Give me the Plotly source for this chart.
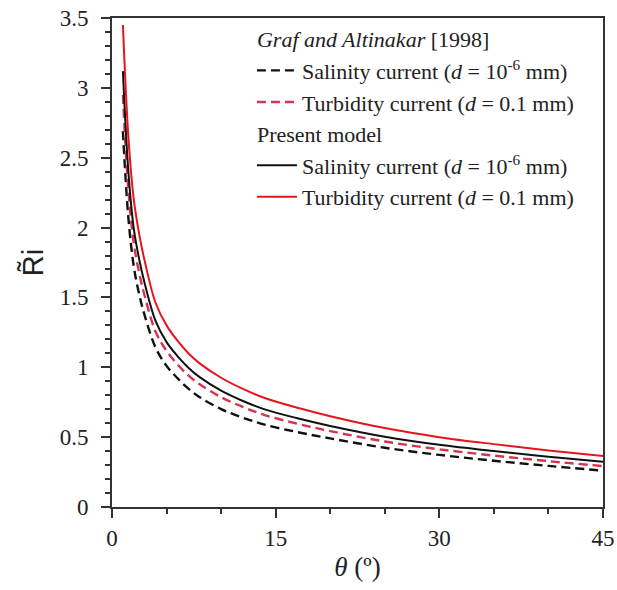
import plotly.graph_objects as go

# Inclination angle (degrees)
theta = [1, 1.5, 2, 2.5, 3, 4, 5, 6, 7, 8, 10, 12, 14, 17, 20, 25, 30, 35, 40, 45]

# Graf and Altinakar [1998]
graf_salinity = [2.69, 2.07, 1.72, 1.52, 1.37, 1.14, 1.01, 0.922, 0.847, 0.788, 0.701, 0.639,
                 0.589, 0.536, 0.491, 0.424, 0.373, 0.331, 0.294, 0.26]
graf_turbidity = [2.95, 2.27, 1.885, 1.673, 1.51, 1.254, 1.118, 1.021, 0.942, 0.88, 0.786, 0.716,
                  0.658, 0.596, 0.543, 0.469, 0.413, 0.368, 0.328, 0.293]

# Present model
model_salinity = [3.12, 2.40, 1.99, 1.77, 1.60, 1.33, 1.18, 1.08, 0.997, 0.931, 0.833, 0.759,
                  0.699, 0.635, 0.58, 0.503, 0.445, 0.40, 0.36, 0.324]
model_turbidity = [3.45, 2.65, 2.20, 1.95, 1.76, 1.46, 1.30, 1.19, 1.10, 1.03, 0.925, 0.845,
                   0.78, 0.71, 0.65, 0.565, 0.50, 0.45, 0.405, 0.365]

x_ticks = [0, 15, 30, 45]
y_ticks = [0, 0.5, 1, 1.5, 2, 2.5, 3, 3.5]
y_tick_labels = ["0", "0.5", "1", "1.5", "2", "2.5", "3", "3.5"]

BLACK = "#111111"
RED = "#e8141c"
RED_D = "#d4344f"
SERIF = "Liberation Serif"

fig = go.Figure()
fig.add_trace(go.Scatter(
    x=theta, y=graf_salinity, mode="lines", line=dict(color=BLACK, width=2.4, dash="9px,5px", shape="spline"),
    name="Salinity current (<i>d</i> = 10<sup>-6</sup> mm)",
    legendgroup="graf", legendgrouptitle=dict(text="<i>Graf and Altinakar</i> [1998]")))
fig.add_trace(go.Scatter(
    x=theta, y=graf_turbidity, mode="lines", line=dict(color=RED_D, width=2.4, dash="9px,5px", shape="spline"),
    name="Turbidity current (<i>d</i> = 0.1 mm)", legendgroup="graf"))
fig.add_trace(go.Scatter(
    x=theta, y=model_salinity, mode="lines", line=dict(color=BLACK, width=2, shape="spline"),
    name="Salinity current (<i>d</i> = 10<sup>-6</sup> mm)",
    legendgroup="model", legendgrouptitle=dict(text="Present model")))
fig.add_trace(go.Scatter(
    x=theta, y=model_turbidity, mode="lines", line=dict(color=RED, width=2, shape="spline"),
    name="Turbidity current (<i>d</i> = 0.1 mm)", legendgroup="model"))

axis_common = dict(
    showline=True, linecolor="#333333", linewidth=2, mirror=True,
    ticks="outside", tickcolor="#333333", tickwidth=2, ticklen=9,
    showgrid=False, zeroline=False,
    tickfont=dict(family=SERIF, size=23, color="#222222"),
)

fig.update_xaxes(
    range=[0, 45], tickvals=x_ticks, ticktext=[str(v) for v in x_ticks],
    minor=dict(dtick=5, ticks="outside", ticklen=5, tickwidth=2, tickcolor="#333333"),
    title=dict(text="<i>θ</i> (º)", font=dict(family=SERIF, size=27, color="#222222"), standoff=8),
    **axis_common)
fig.update_yaxes(
    range=[0, 3.5], tickvals=y_ticks, ticktext=y_tick_labels,
    minor=dict(dtick=0.1, ticks="outside", ticklen=5, tickwidth=2, tickcolor="#333333"),
    title=dict(text="R\u0303i", font=dict(family="Liberation Sans", size=29, color="#222222"), standoff=8),
    ticklabelstandoff=8,
    **axis_common)

fig.update_layout(
    width=617, height=590,
    font=dict(family=SERIF, size=22, color="#222222"),
    margin=dict(l=112, r=14, t=18, b=83, autoexpand=False),
    paper_bgcolor="white", plot_bgcolor="white",
    showlegend=True,
    legend=dict(
        x=0.285, y=1.0, xanchor="left", yanchor="top",
        bgcolor="rgba(0,0,0,0)", borderwidth=0,
        font=dict(family=SERIF, size=22, color="#222222"),
        grouptitlefont=dict(family=SERIF, size=22, color="#222222"),
        traceorder="grouped", tracegroupgap=0, itemwidth=40,
    ),
)

# Remove the default page margin so the 617x590 figure fills the window exactly.
fig.write_html(
    "out.html",
    config={"displayModeBar": False, "staticPlot": True},
    post_script="document.body.style.margin='0';document.body.style.overflow='hidden';",
)
